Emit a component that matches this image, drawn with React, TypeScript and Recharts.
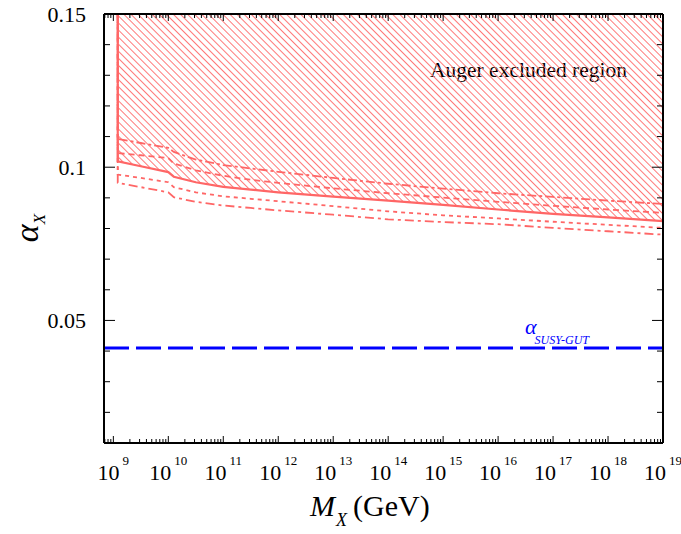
import { ComposedChart, Line, Area, XAxis, YAxis, ReferenceLine } from "recharts";

// x values are log10(M_X / GeV)
const decades = [9, 10, 11, 12, 13, 14, 15, 16, 17, 18, 19];
const minorMultipliers = [2, 3, 4, 5, 6, 7, 8, 9];
const xDomain = [8.83, 19];

const yTicks = [0.01, 0.02, 0.03, 0.04, 0.05, 0.06, 0.07, 0.08, 0.09, 0.1, 0.11, 0.12, 0.13, 0.14, 0.15];
const yMajorTicks = [0.05, 0.1, 0.15];
const yTickLabels = ["0.05", "0.1", "0.15"];

const logMass = [9.08, 9.08, 9.5, 10, 10.1, 10.5, 11, 11.5, 12, 13, 14, 15, 16, 17, 18, 19];
const solidBound = [0.15, 0.1019, 0.1003, 0.0984, 0.0969, 0.0951, 0.0936, 0.0927, 0.0918, 0.0904, 0.0891, 0.0877, 0.0862, 0.0848, 0.0836, 0.0824];
const upperDashDot = [0.15, 0.1092, 0.1079, 0.1063, 0.105, 0.1025, 0.1007, 0.0996, 0.0985, 0.0965, 0.0946, 0.093, 0.0915, 0.0903, 0.0891, 0.088];
const upperDashed = [0.15, 0.1046, 0.1039, 0.103, 0.1012, 0.099, 0.0972, 0.0959, 0.0949, 0.0931, 0.0915, 0.0901, 0.0887, 0.0874, 0.0862, 0.0851];
const lowerDotted = [0.15, 0.0976, 0.0965, 0.0951, 0.0935, 0.0918, 0.0905, 0.0897, 0.0889, 0.0873, 0.0856, 0.0843, 0.0833, 0.0822, 0.0812, 0.0802];
const lowerDashDot = [0.15, 0.0949, 0.0935, 0.0918, 0.0902, 0.0887, 0.0875, 0.0867, 0.0859, 0.0845, 0.083, 0.0821, 0.0814, 0.0802, 0.0791, 0.078];
const alphaSusyGut = 0.041;

const FONT = '"Liberation Serif", "Times New Roman", serif';
const RED = "#ff6666";
const BLUE = "#0000ff";

const toPoints = (ys: number[]) => logMass.map((x, i) => ({ x, y: ys[i] }));

const xTicks: number[] = [];
for (let d = decades[0] - 1; d <= decades[decades.length - 1]; d++) {
  if (d >= decades[0]) xTicks.push(d);
  if (d < decades[decades.length - 1]) {
    minorMultipliers.forEach((m) => {
      const v = d + Math.log10(m);
      if (v >= xDomain[0] && v <= xDomain[1]) xTicks.push(v);
    });
  }
}
xTicks.sort((a, b) => a - b);

const isDecade = (v: number) => decades.some((d) => Math.abs(d - v) < 1e-6);
const majorY = (v: number) => yMajorTicks.findIndex((m) => Math.abs(m - v) < 1e-9);

function BottomTick(props: any) {
  const { x, y, payload } = props;
  const v = payload.value;
  const major = isDecade(v);
  return (
    <g>
      <line x1={x} y1={y} x2={x} y2={y - (major ? 7 : 4)} stroke="#000" strokeWidth={1} />
      {major && (
        <text x={x} y={y + 37} textAnchor="middle" fontFamily={FONT} fill="#000">
          <tspan fontSize={22}>10</tspan>
          <tspan fontSize={13} dy={-15} dx={3}>{Math.round(v)}</tspan>
        </text>
      )}
    </g>
  );
}

function TopTick(props: any) {
  const { x, y, payload } = props;
  const major = isDecade(payload.value);
  return <line x1={x} y1={y} x2={x} y2={y + (major ? 7 : 4)} stroke="#000" strokeWidth={1} />;
}

function LeftTick(props: any) {
  const { x, y, payload } = props;
  const idx = majorY(payload.value);
  return (
    <g>
      <line x1={x} y1={y} x2={x + (idx >= 0 ? 11 : 6)} y2={y} stroke="#000" strokeWidth={1} />
      {idx >= 0 && (
        <text x={x - 18} y={y} dy="0.35em" textAnchor="end" fontFamily={FONT} fontSize={22} fill="#000">
          {yTickLabels[idx]}
        </text>
      )}
    </g>
  );
}

function RightTick(props: any) {
  const { x, y, payload } = props;
  const idx = majorY(payload.value);
  return <line x1={x} y1={y} x2={x - (idx >= 0 ? 11 : 6)} y2={y} stroke="#000" strokeWidth={1} />;
}

function SusyLabel(props: any) {
  const vb = props.viewBox || { x: 0, y: 0 };
  return (
    <text x={vb.x + 421} y={vb.y - 14} fontFamily={FONT} fill={BLUE} fontStyle="italic">
      <tspan fontSize={22}>α</tspan>
      <tspan fontSize={12} dy={10} dx={-2}>SUSY-GUT</tspan>
    </text>
  );
}

export default function App() {
  return (
    <div style={{ position: "absolute", left: 0, top: 0, width: 681, height: 534, background: "#fff" }}>
      <svg width={0} height={0} style={{ position: "absolute" }}>
        <defs>
          <pattern id="hatch" width={5} height={5} patternUnits="userSpaceOnUse" patternTransform="rotate(-45)">
            <line x1={2.5} y1={0} x2={2.5} y2={5} stroke="#ff6a6a" strokeWidth={0.9} />
          </pattern>
        </defs>
      </svg>
      <ComposedChart width={681} height={534} margin={{ top: 13, right: 17, bottom: 61, left: 44 }}>
        <XAxis
          xAxisId="b"
          type="number"
          dataKey="x"
          domain={xDomain}
          ticks={xTicks}
          interval={0}
          allowDataOverflow
          height={30}
          tickSize={0}
          tickMargin={0}
          tickLine={false}
          axisLine={{ stroke: "#000", strokeWidth: 2 }}
          tick={<BottomTick />}
        />
        <XAxis
          xAxisId="t"
          orientation="top"
          type="number"
          dataKey="x"
          domain={xDomain}
          ticks={xTicks}
          interval={0}
          allowDataOverflow
          height={1}
          tickSize={0}
          tickMargin={0}
          tickLine={false}
          axisLine={{ stroke: "#000", strokeWidth: 2 }}
          tick={<TopTick />}
        />
        <YAxis
          yAxisId="l"
          type="number"
          domain={[0.01, 0.15]}
          ticks={yTicks}
          interval={0}
          allowDataOverflow
          width={60}
          tickSize={0}
          tickMargin={0}
          tickLine={false}
          axisLine={{ stroke: "#000", strokeWidth: 2 }}
          tick={<LeftTick />}
        />
        <YAxis
          yAxisId="r"
          orientation="right"
          type="number"
          domain={[0.01, 0.15]}
          ticks={yTicks}
          interval={0}
          allowDataOverflow
          width={1}
          tickSize={0}
          tickMargin={0}
          tickLine={false}
          axisLine={{ stroke: "#000", strokeWidth: 2 }}
          tick={<RightTick />}
        />
        <Area
          xAxisId="b"
          yAxisId="l"
          data={toPoints(solidBound)}
          dataKey="y"
          type="linear"
          baseValue="dataMax"
          fill="url(#hatch)"
          fillOpacity={1}
          stroke="none"
          isAnimationActive={false}
        />
        <Line xAxisId="b" yAxisId="l" data={toPoints(upperDashDot)} dataKey="y" type="linear" stroke={RED} strokeWidth={1.8} strokeDasharray="9 3 3 3" dot={false} activeDot={false} isAnimationActive={false} />
        <Line xAxisId="b" yAxisId="l" data={toPoints(upperDashed)} dataKey="y" type="linear" stroke={RED} strokeWidth={1.8} strokeDasharray="6 4" dot={false} activeDot={false} isAnimationActive={false} />
        <Line xAxisId="b" yAxisId="l" data={toPoints(lowerDotted)} dataKey="y" type="linear" stroke={RED} strokeWidth={1.8} strokeDasharray="4 4" dot={false} activeDot={false} isAnimationActive={false} />
        <Line xAxisId="b" yAxisId="l" data={toPoints(lowerDashDot)} dataKey="y" type="linear" stroke={RED} strokeWidth={1.8} strokeDasharray="9 4 3 4" dot={false} activeDot={false} isAnimationActive={false} />
        <Line xAxisId="b" yAxisId="l" data={toPoints(solidBound)} dataKey="y" type="linear" stroke={RED} strokeWidth={2.2} dot={false} activeDot={false} isAnimationActive={false} />
        <ReferenceLine
          xAxisId="b"
          yAxisId="l"
          y={alphaSusyGut}
          stroke={BLUE}
          strokeWidth={3}
          strokeDasharray="25 7"
          label={<SusyLabel />}
        />
        <text x={430} y={77} fontFamily={FONT} fontSize={21.5} fill="#000">Auger excluded region</text>
        <text transform="translate(38,228) rotate(-90)" textAnchor="middle" fontFamily={FONT} fill="#000" fontStyle="italic">
          <tspan fontSize={34}>α</tspan>
          <tspan fontSize={17} dy={7}>X</tspan>
        </text>
        <text x={310} y={516} fontFamily={FONT} fill="#000">
          <tspan fontSize={30} fontStyle="italic">M</tspan>
          <tspan fontSize={18} fontStyle="italic" dy={10} dx={1}>X</tspan>
          <tspan fontSize={30} dy={-10} dx={6}>(GeV)</tspan>
        </text>
      </ComposedChart>
    </div>
  );
}
